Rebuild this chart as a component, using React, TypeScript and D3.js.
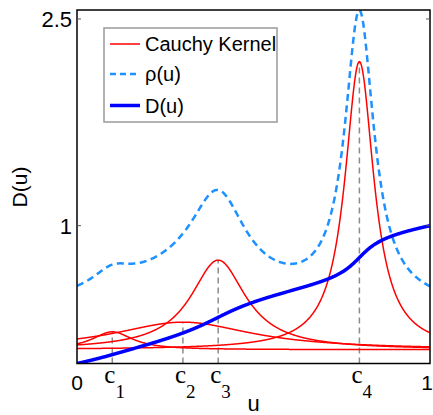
import React from "react";
import * as d3 from "d3";

// Kernel parameters
const centers = [0.1, 0.3, 0.4, 0.8];
const centerLabels = ["1", "2", "3", "4"];
const amplitudes = [0.13, 0.2, 0.65, 2.09];
const widths = [0.07, 0.24, 0.095, 0.05];
const floor = 0.1;
const yTicks = [1, 2.5];
const yTickLabels = ["1", "2.5"];
const xEndLabels = ["0", "1"];
const legendLabels = ["Cauchy Kernel", "ρ(u)", "D(u)"];

const W = 433, H = 415;
const L = 77, R = 430, T = 10, B = 363.5;
const x = d3.scaleLinear().domain([0, 1]).range([L, R]);
const y = d3.scaleLinear().domain([0, 2.565]).range([B, T]);

const N = 800;
const us = d3.range(N + 1).map((i) => i / N);
const kernel = (k: number, u: number) =>
  floor + amplitudes[k] / (1 + ((u - centers[k]) / widths[k]) ** 2);
const kernels = centers.map((_, k) => us.map((u) => [u, kernel(k, u)] as [number, number]));
const rho = us.map((u, i) => [u, d3.sum(kernels, (kk) => kk[i][1])] as [number, number]);
const cum: number[] = [0];
for (let i = 1; i < rho.length; i++) {
  cum.push(cum[i - 1] + ((rho[i][1] + rho[i - 1][1]) / 2) * (us[i] - us[i - 1]));
}
const total = cum[cum.length - 1];
const D = us.map((u, i) => [u, cum[i] / total] as [number, number]);

const line = d3
  .line<[number, number]>()
  .x((d) => x(d[0]))
  .y((d) => y(d[1]))
  .curve(d3.curveLinear);

const SANS = "'Liberation Sans', Arial, Helvetica, sans-serif";
const SERIF = "'Liberation Serif', 'Times New Roman', serif";

export default function App() {
  return (
    <svg
      width={W}
      height={H}
      style={{ position: "absolute", left: 0, top: 0, background: "#fff" }}
    >
      <defs>
        <clipPath id="plot">
          <rect x={L} y={T} width={R - L} height={B - T} />
        </clipPath>
      </defs>
      <rect x={0} y={0} width={W} height={H} fill="#fff" />
      {/* center guide lines */}
      {centers.map((c, k) => (
        <line
          key={"g" + k}
          x1={x(c)}
          x2={x(c)}
          y1={B}
          y2={y(kernel(k, c))}
          stroke="#8c8c8c"
          strokeWidth={1.5}
          strokeDasharray="6,4"
        />
      ))}
      <g clipPath="url(#plot)">
        {kernels.map((k, i) => (
          <path key={"k" + i} d={line(k) || ""} fill="none" stroke="#ff0000" strokeWidth={1.5} />
        ))}
        <path d={line(rho) || ""} fill="none" stroke="#1e90ff" strokeWidth={2.5} strokeDasharray="7,4.5" />
        <path d={line(D) || ""} fill="none" stroke="#0000ff" strokeWidth={3.5} />
      </g>
      {/* frame */}
      <rect x={L} y={T} width={R - L} height={B - T} fill="none" stroke="#000" strokeWidth={1.5} />
      {yTicks.map((t, i) => (
        <g key={"yt" + i}>
          <line x1={L} x2={L + 4} y1={y(t)} y2={y(t)} stroke="#555" strokeWidth={1} />
          <line x1={R - 4} x2={R} y1={y(t)} y2={y(t)} stroke="#555" strokeWidth={1} />
          <text
            x={L - 5}
            y={y(t)}
            dy="0.36em"
            textAnchor="end"
            fontFamily={SANS}
            fontSize={22}
            fill="#000"
          >
            {yTickLabels[i]}
          </text>
        </g>
      ))}
      {/* x labels */}
      {xEndLabels.map((s, i) => (
        <text
          key={"xe" + i}
          x={i === 0 ? x(0) : x(1) - 3}
          y={390}
          textAnchor="middle"
          fontFamily={SANS}
          fontSize={21}
          fill="#000"
        >
          {s}
        </text>
      ))}
      {centers.map((c, k) => (
        <text key={"cl" + k} x={x(c) - 8} y={383} fontFamily={SERIF} fontSize={25} fill="#000">
          c
          <tspan fontSize={19} dy={15}>
            {centerLabels[k]}
          </tspan>
        </text>
      ))}
      <text x={(L + R) / 2} y={411} textAnchor="middle" fontFamily={SANS} fontSize={22} fill="#000">
        u
      </text>
      <text
        transform={`translate(27,${187}) rotate(-90)`}
        textAnchor="middle"
        fontFamily={SANS}
        fontSize={21}
        fill="#000"
      >
        D(u)
      </text>
      {/* legend */}
      <g>
        <rect x={104} y={28} width={173} height={94} fill="#fff" stroke="#9a9a9a" strokeWidth={1.5} />
        <line x1={110} x2={140} y1={44} y2={44} stroke="#ff0000" strokeWidth={1.5} />
        <line x1={110} x2={140} y1={74} y2={74} stroke="#1e90ff" strokeWidth={2.5} strokeDasharray="6,4" />
        <line x1={110} x2={140} y1={105.5} y2={105.5} stroke="#0000ff" strokeWidth={3.5} />
        {legendLabels.map((s, i) => (
          <text
            key={"lg" + i}
            x={145}
            y={[44, 74, 105.5][i]}
            dy="0.36em"
            fontFamily={SANS}
            fontSize={20}
            fill="#000"
          >
            {s}
          </text>
        ))}
      </g>
    </svg>
  );
}
